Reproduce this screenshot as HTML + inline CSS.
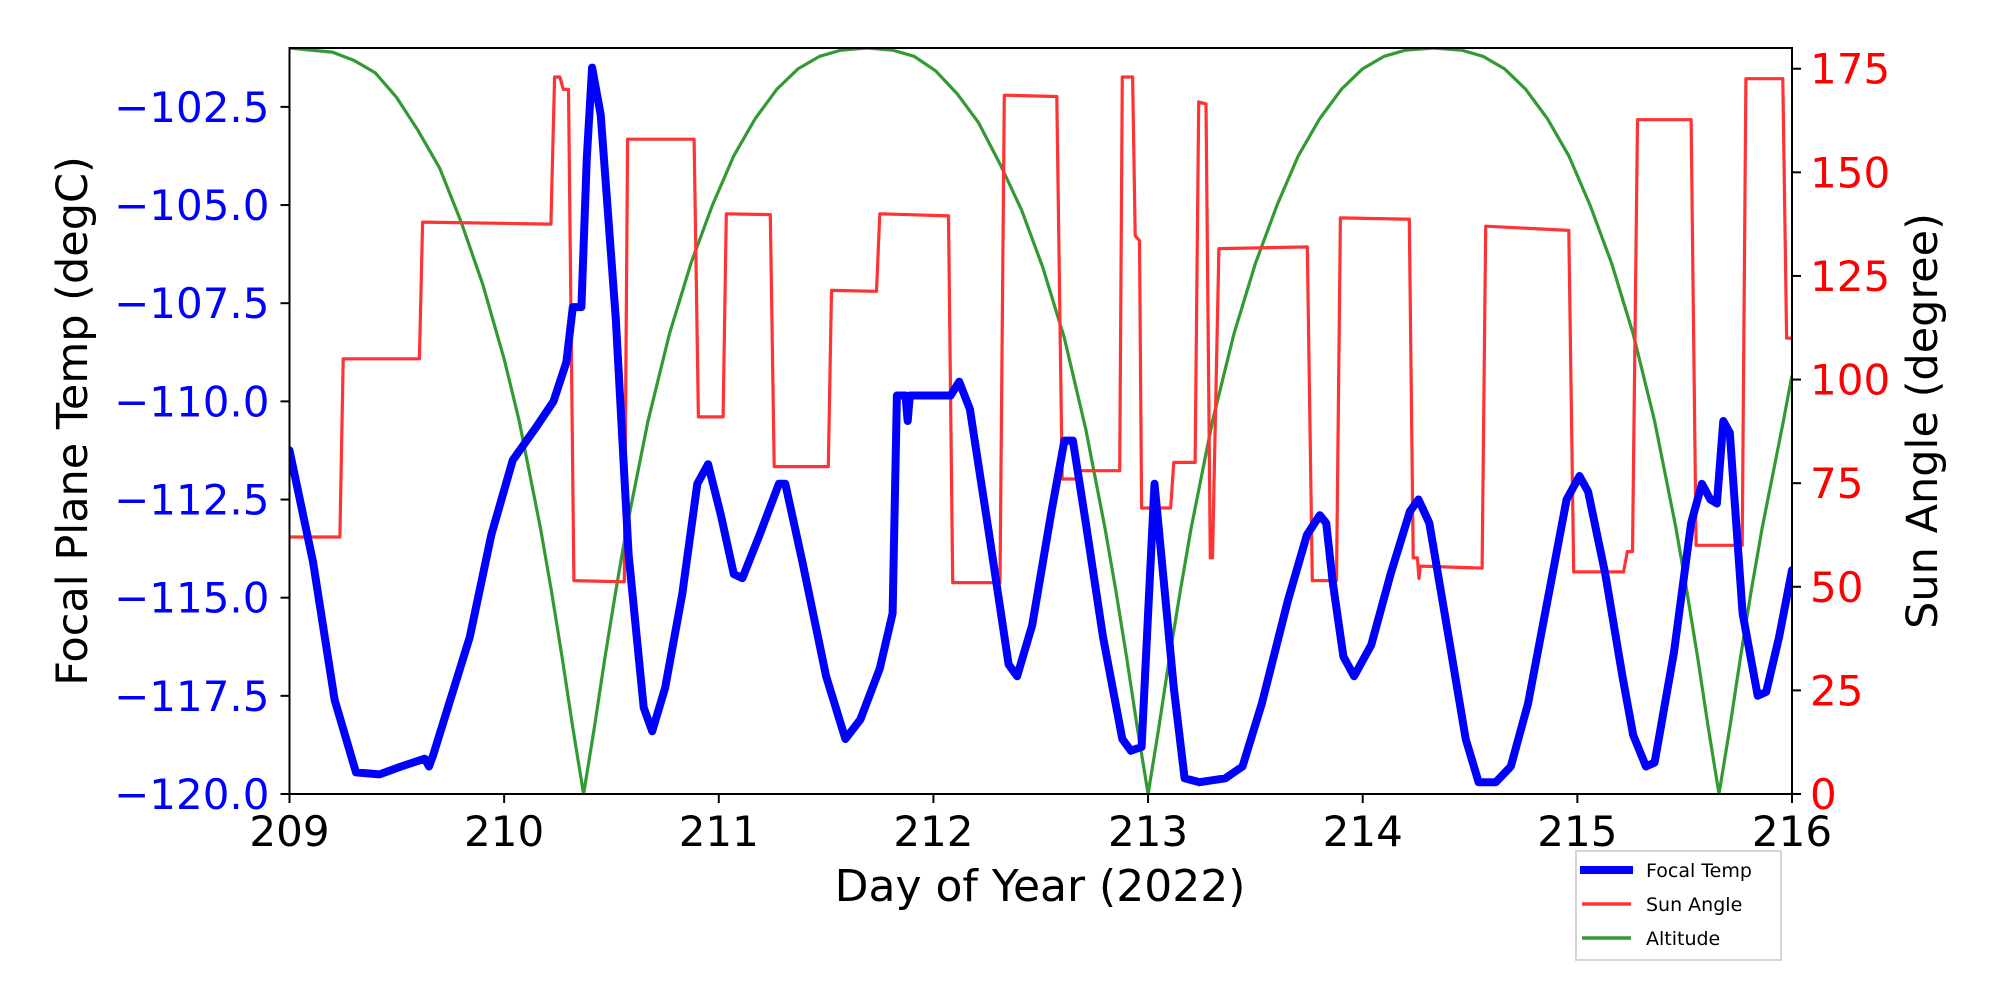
<!DOCTYPE html>
<html><head><meta charset="utf-8"><style>
html,body{margin:0;padding:0;background:#fff;}
svg{display:block;font-family:"DejaVu Sans","Liberation Sans",sans-serif;}
</style></head><body>
<svg id="chart" width="2000" height="1000" viewBox="0 0 2000 1000" xmlns="http://www.w3.org/2000/svg">
<defs><clipPath id="pc"><rect x="289.5" y="48" width="1502.5" height="746"/></clipPath></defs>
<g id="marks" clip-path="url(#pc)"></g>
<rect x="289.5" y="48" width="1502.5" height="746" fill="none" stroke="#000" stroke-width="2"/>
<g id="axes"></g>
<text x="1040" y="901" font-size="44" text-anchor="middle">Day of Year (2022)</text>
<text x="0" y="0" font-size="43" text-anchor="middle" transform="translate(87,421) rotate(-90)">Focal Plane Temp (degC)</text>
<text x="0" y="0" font-size="43" text-anchor="middle" transform="translate(1937,421) rotate(-90)">Sun Angle (degree)</text>
<g>
<rect x="1576" y="851" width="205" height="109" fill="#fff" stroke="#d6d6d6" stroke-width="2"/>
<line x1="1580" y1="870" x2="1633" y2="870" stroke="#0000ff" stroke-width="8"/>
<text x="1646" y="877" font-size="19">Focal Temp</text>
<line x1="1582" y1="904" x2="1631" y2="904" stroke="#ff3333" stroke-width="3.5"/>
<text x="1646" y="911" font-size="19">Sun Angle</text>
<line x1="1582" y1="938" x2="1631" y2="938" stroke="#339933" stroke-width="3.5"/>
<text x="1646" y="945" font-size="19">Altitude</text>
</g>
</svg>
<script>
const xTicks=[209,210,211,212,213,214,215,216];
const tempTicks=[-120,-117.5,-115,-112.5,-110,-107.5,-105,-102.5];
const sunTicks=[0,25,50,75,100,125,150,175];
const altDays=[209.0,209.1,209.2,209.3,209.4,209.5,209.6,209.7,209.8,209.9,210.0,210.07,210.17,210.22,210.27,210.32,210.37,
210.42,210.47,210.52,210.57,210.67,210.77,210.87,210.97,211.07,211.17,211.27,211.37,211.47,211.57,211.69,
211.81,211.91,212.01,212.11,212.21,212.31,212.41,212.51,212.61,212.71,212.8,212.85,212.9,212.95,213.0,
213.05,213.1,213.15,213.2,213.3,213.4,213.5,213.6,213.7,213.8,213.9,214.0,214.1,214.2,214.33,
214.46,214.56,214.66,214.76,214.86,214.96,215.06,215.16,215.26,215.36,215.46,215.51,215.56,215.61,215.66,
215.71,215.76,215.81,215.86,215.96,216.0];
const altVals=[180,179.5,179,177,174,168,160,151,138,123,105,90,64,49,33,16,0,
16,33,49,64,90,111,128,142,154,163,170,175,178,179.5,180,
179.5,178,174.5,169,162,152,141,127,110,88,64,49,33,16,0,
16,33,49,64,90,111,128,142,154,163,170,175,178,179.5,180,
179.5,178,175,170,163,154,142,128,111,90,64,49,33,16,0,
16,33,49,64,90,101];
const sunDays=[209,209.235,209.25,209.605,209.62,210.218,210.235,210.26,210.275,210.3,210.325,210.56,210.575,210.885,210.905,211.02,211.035,211.24,211.258,211.51,211.525,211.735,211.75,212.07,212.09,212.31,212.33,212.575,212.6,212.67,212.672,212.868,212.88,212.928,212.94,212.96,212.97,213.105,213.12,213.219,213.236,213.27,213.29,213.30,213.33,213.742,213.765,213.878,213.896,214.217,214.235,214.255,214.262,214.268,214.556,214.573,214.96,214.983,215.215,215.233,215.257,215.28,215.53,215.553,215.768,215.785,215.957,215.975,216];
const sunVals=[62,62,105,105,138,137.5,173,173,170,170,51.5,51.2,158,158,91,91,140,139.8,79,79,121.5,121.3,140,139.5,51,51,168.6,168.3,76,76,78,78,173,173,134.7,133.5,69,69,80,80,167,166.5,57,57,131.6,132,51.5,51.5,139,138.7,57,57,52,55,54.5,137,136,53.6,53.6,58.5,58.5,162.7,162.7,60,60,172.6,172.6,110,110];
const tempDays=[209.0,209.11,209.21,209.31,209.42,209.52,209.63,209.65,209.67,209.84,209.94,210.04,210.15,210.23,210.29,210.32,210.36,210.385,210.41,210.45,210.52,210.58,210.65,210.69,210.75,210.83,210.9,210.95,211.01,211.07,211.11,211.19,211.28,211.31,211.39,211.5,211.59,211.66,211.75,211.81,211.83,211.87,211.88,211.89,212.08,212.12,212.17,212.26,212.35,212.39,212.46,212.55,212.61,212.65,212.71,212.79,212.88,212.92,212.97,213.0,213.03,213.07,213.12,213.17,213.24,213.36,213.44,213.53,213.65,213.74,213.8,213.83,213.86,213.91,213.96,214.04,214.13,214.22,214.26,214.31,214.4,214.48,214.54,214.62,214.69,214.77,214.86,214.95,215.01,215.05,215.13,215.21,215.26,215.32,215.36,215.45,215.53,215.58,215.62,215.65,215.68,215.71,215.77,215.84,215.88,215.94,216.0];
const tempVals=[-111.25,-114.1,-117.6,-119.45,-119.5,-119.3,-119.1,-119.3,-119.0,-116.0,-113.4,-111.5,-110.65,-110.0,-109.0,-107.6,-107.6,-103.8,-101.5,-102.7,-107.9,-113.9,-117.8,-118.4,-117.3,-114.9,-112.1,-111.6,-112.9,-114.4,-114.5,-113.4,-112.1,-112.1,-114.1,-117.0,-118.6,-118.1,-116.8,-115.4,-109.85,-109.85,-110.5,-109.85,-109.85,-109.5,-110.2,-113.4,-116.7,-117.0,-115.7,-112.8,-111.0,-111.0,-113.1,-116.0,-118.6,-118.9,-118.8,-115.4,-112.1,-114.4,-117.3,-119.6,-119.7,-119.6,-119.3,-117.7,-115.1,-113.4,-112.9,-113.1,-114.6,-116.5,-117.0,-116.2,-114.4,-112.8,-112.5,-113.1,-116.0,-118.6,-119.7,-119.7,-119.3,-117.7,-115.1,-112.5,-111.9,-112.3,-114.4,-117.0,-118.5,-119.3,-119.2,-116.4,-113.1,-112.1,-112.5,-112.6,-110.5,-110.8,-115.4,-117.5,-117.4,-116.0,-114.3];

const L=289.5,R=1792,T=48,B=794;
const xMin=209,xMax=216,tMin=-120,tMax=-101,sMin=0,sMax=180;
function xs(d){return L+(d-xMin)/(xMax-xMin)*(R-L);}
function yT(v){return B-(v-tMin)/(tMax-tMin)*(B-T);}
function yS(v){return B-(v-sMin)/(sMax-sMin)*(B-T);}
const NS='http://www.w3.org/2000/svg';
const marks=document.getElementById('marks');
const axes=document.getElementById('axes');
function mk(tag,attrs,parent){const e=document.createElementNS(NS,tag);for(const k in attrs)e.setAttribute(k,attrs[k]);parent.appendChild(e);return e;}
function pts(ds,vs,yf){return ds.map((d,i)=>xs(d).toFixed(1)+','+yf(vs[i]).toFixed(1)).join(' ');}

const alt=mk('polyline',{points:pts(altDays,altVals,yS),fill:'none',stroke:'#339933','stroke-width':3.2,'stroke-linejoin':'round'},marks);


const sun=mk('polyline',{points:pts(sunDays,sunVals,yS),fill:'none',stroke:'#ff3333','stroke-width':3.2,'stroke-linejoin':'round'},marks);


const tmp=mk('polyline',{points:pts(tempDays,tempVals,yT),fill:'none',stroke:'#0000ff','stroke-width':8,'stroke-linejoin':'round','stroke-linecap':'round'},marks);



xTicks.forEach(t=>{
  const x=xs(t);
  const tk=mk('line',{x1:x,y1:B,x2:x,y2:B+9,stroke:'#000','stroke-width':2},axes);
  
  
  const lb=mk('text',{x:x,y:B+52,'font-size':42,'text-anchor':'middle'},axes);
  lb.textContent=String(t);
  
  
});
tempTicks.forEach(t=>{
  const y=yT(t);
  const tk=mk('line',{x1:L-9,y1:y,x2:L,y2:y,stroke:'#000','stroke-width':2},axes);
  
  
  const lb=mk('text',{x:L-20,y:y+15,'font-size':42,'text-anchor':'end',fill:'#0000ff'},axes);
  lb.textContent='\u2212'+Math.abs(t).toFixed(1);
  
  
});
sunTicks.forEach(t=>{
  const y=yS(t);
  const tk=mk('line',{x1:R,y1:y,x2:R+9,y2:y,stroke:'#000','stroke-width':2},axes);
  
  
  const lb=mk('text',{x:R+18,y:y+15,'font-size':42,'text-anchor':'start',fill:'#ff0000'},axes);
  lb.textContent=String(t);
  
  
});
</script>
</body></html>
